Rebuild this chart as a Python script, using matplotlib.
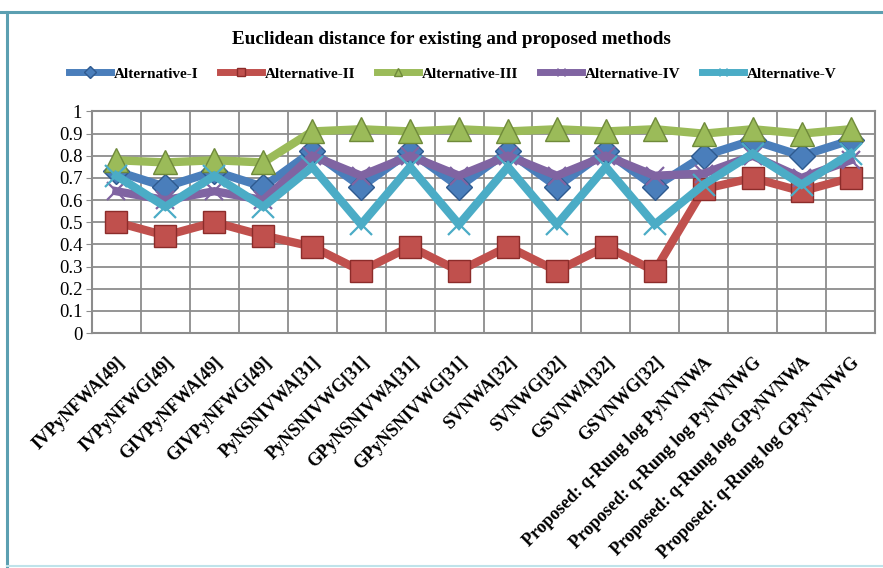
import matplotlib
matplotlib.use("Agg")
import matplotlib.pyplot as plt
from matplotlib.lines import Line2D
import numpy as np

methods = [
    "IVPyNFWA[49]", "IVPyNFWG[49]", "GIVPyNFWA[49]", "GIVPyNFWG[49]",
    "PyNSNIVWA[31]", "PyNSNIVWG[31]", "GPyNSNIVWA[31]", "GPyNSNIVWG[31]",
    "SVNWA[32]", "SVNWG[32]", "GSVNWA[32]", "GSVNWG[32]",
    "Proposed: q-Rung log PyNVNWA", "Proposed: q-Rung log PyNVNWG",
    "Proposed: q-Rung log GPyNVNWA", "Proposed: q-Rung log GPyNVNWG",
]

alt_1 = [0.73, 0.66, 0.73, 0.66, 0.82, 0.66, 0.82, 0.66, 0.82, 0.66, 0.82, 0.66, 0.80, 0.87, 0.80, 0.87]
alt_2 = [0.50, 0.44, 0.50, 0.44, 0.39, 0.28, 0.39, 0.28, 0.39, 0.28, 0.39, 0.28, 0.65, 0.70, 0.64, 0.70]
alt_3 = [0.78, 0.77, 0.78, 0.77, 0.91, 0.92, 0.91, 0.92, 0.91, 0.92, 0.91, 0.92, 0.90, 0.92, 0.90, 0.92]
alt_4 = [0.64, 0.60, 0.64, 0.60, 0.80, 0.71, 0.80, 0.71, 0.80, 0.71, 0.80, 0.71, 0.72, 0.80, 0.70, 0.78]
alt_5 = [0.71, 0.57, 0.71, 0.57, 0.75, 0.49, 0.75, 0.49, 0.75, 0.49, 0.75, 0.49, 0.67, 0.81, 0.67, 0.81]

series_names = ["Alternative-I", "Alternative-II", "Alternative-III", "Alternative-IV", "Alternative-V"]
y_ticks = [0, 0.1, 0.2, 0.3, 0.4, 0.5, 0.6, 0.7, 0.8, 0.9, 1]
y_tick_labels = ["0", "0.1", "0.2", "0.3", "0.4", "0.5", "0.6", "0.7", "0.8", "0.9", "1"]

styles = [
    dict(color="#4a7ebb", marker="D", ms=13, mec="#2f5a8f"),
    dict(color="#c0504d", marker="s", ms=16, mec="#8c2c2a"),
    dict(color="#9bbb59", marker="^", ms=17, mec="#6f8a3a"),
    dict(color="#8064a2", marker="x", ms=13, mec="#8064a2"),
    dict(color="#4bacc6", marker="x", ms=16, mec="#4bacc6"),
]

plt.rcParams["font.family"] = ["Liberation Serif", "DejaVu Serif"]

fig = plt.figure(figsize=(8.83, 5.68), dpi=100)
fig.patch.set_facecolor("white")

# outer chart frame
fig.add_artist(Line2D([0.0, 1.0], [1 - 12 / 568, 1 - 12 / 568], transform=fig.transFigure,
                      color="#5b9fb1", lw=2.2))
fig.add_artist(Line2D([7 / 883, 7 / 883], [1 - 12 / 568, 1 - 566 / 568], transform=fig.transFigure,
                      color="#5b9fb1", lw=2.2))
fig.add_artist(Line2D([7 / 883, 1.0], [1 - 566 / 568, 1 - 566 / 568], transform=fig.transFigure,
                      color="#bfe3ea", lw=1.5))

ax = fig.add_axes([92 / 883, 1 - 333 / 568, (875 - 92) / 883, (333 - 111.5) / 568])

x = np.arange(len(methods))
all_series = [alt_1, alt_2, alt_3, alt_4, alt_5]
for vals, name, st in zip(all_series, series_names, styles):
    ax.plot(x, vals, color=st["color"], lw=6, marker=st["marker"],
            ms=st["ms"], mfc=st["color"], mec=st["mec"],
            mew=1.0 if st["marker"] != "x" else 1.6,
            solid_joinstyle="miter", label=name, zorder=3)

ax.set_xlim(-0.5, len(methods) - 0.5)
ax.set_ylim(0, 1)
ax.set_yticks(y_ticks)
ax.set_yticklabels(y_tick_labels, fontsize=13.5)

# gridlines: horizontal at each tick, vertical between categories
for yv in y_ticks:
    ax.axhline(yv, color="#8c8c8c", lw=1.3, zorder=1)
for xv in np.arange(-0.5, len(methods), 1.0):
    ax.axvline(xv, color="#8c8c8c", lw=1.3, zorder=1)

ax.set_xticks(x)
ax.set_xticklabels(methods, rotation=45, ha="right", va="top", rotation_mode="anchor",
                   fontsize=13, fontweight="bold")
ax.tick_params(axis="x", length=0, pad=15)
ax.tick_params(axis="y", length=4, color="#8c8c8c", pad=3)
for sp in ax.spines.values():
    sp.set_color("#8c8c8c")
    sp.set_linewidth(1.5)

fig.text(0.511, 1 - 40 / 568, "Euclidean distance for existing and proposed methods",
         ha="center", va="center", fontsize=13.8, fontweight="bold")

leg_handles = [Line2D([0], [0], color=st["color"], lw=5, marker=st["marker"], ms=6,
                      mfc=st["color"], mec=st["mec"]) for st in styles]
fig.legend(leg_handles, series_names, loc="center", bbox_to_anchor=(0.513, 1 - 74 / 568),
           ncol=5, frameon=False, handlelength=2.75, handletextpad=0.2, columnspacing=1.4,
           prop=dict(size=11, weight="bold"))

fig.savefig("out.png", dpi=100, facecolor="white")
